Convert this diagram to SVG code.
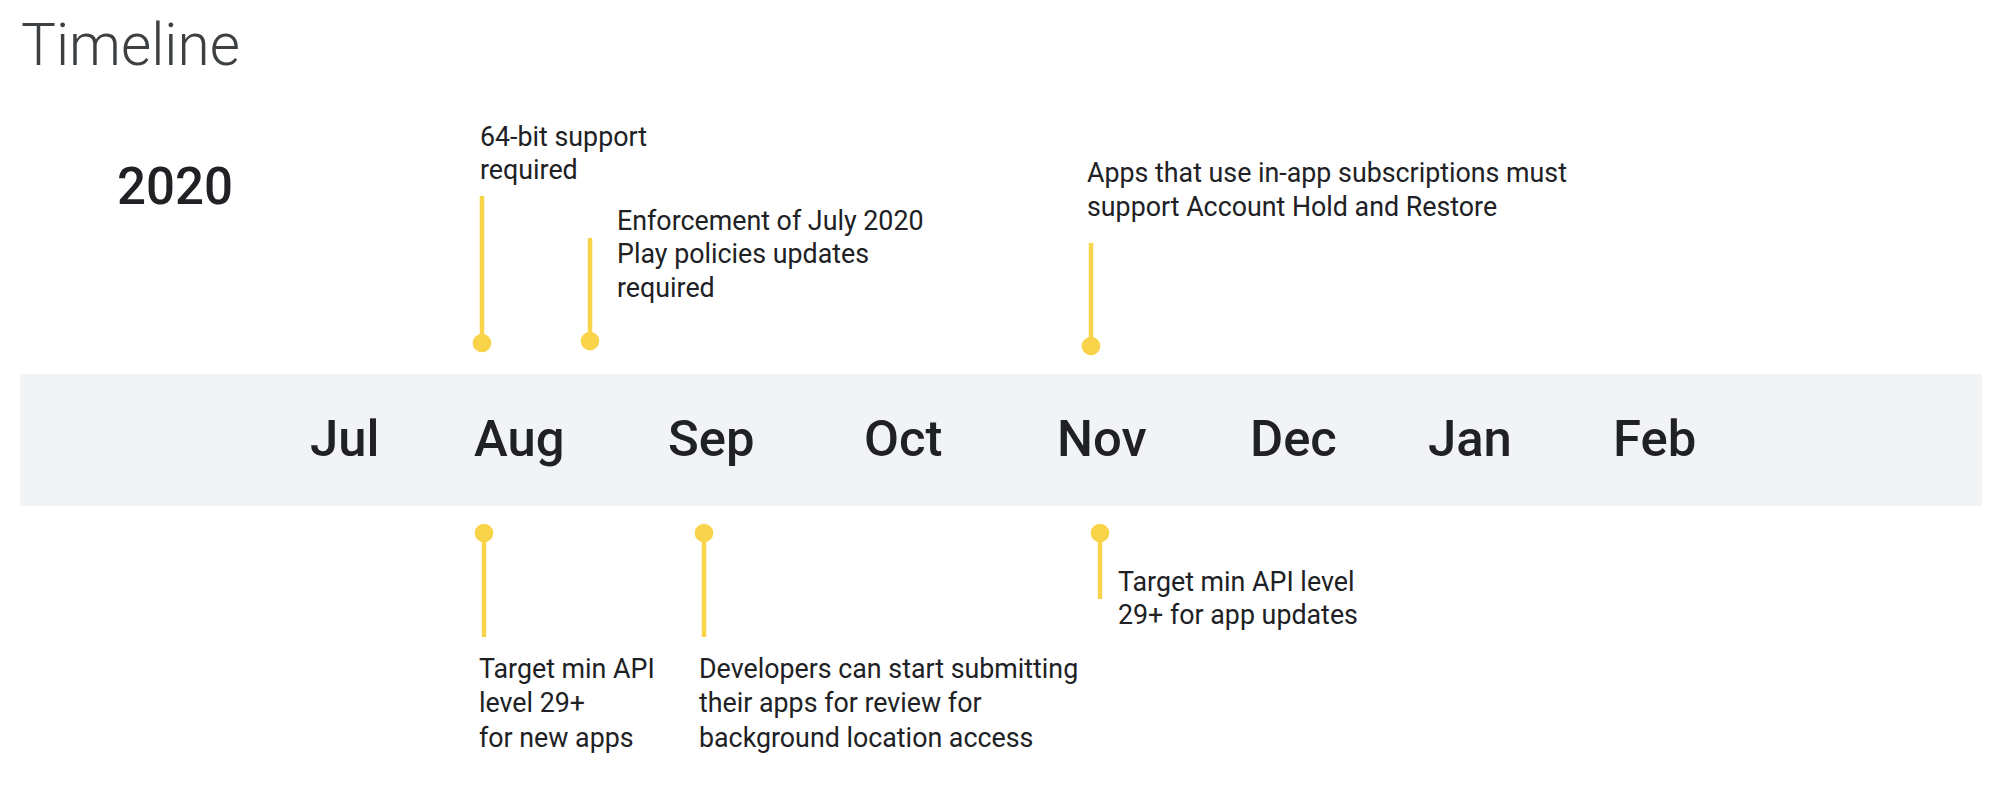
<svg xmlns="http://www.w3.org/2000/svg" width="1999" height="789" viewBox="0 0 1999 789">
<style>
  .title { font-family: Roboto, "Liberation Sans", sans-serif; font-weight: 300; font-size: 58.5px; fill: #3c4043; }
  .year { font-family: Roboto, "Liberation Sans", sans-serif; font-weight: 500; font-size: 51px; fill: #202124; }
  .month { font-family: Roboto, "Liberation Sans", sans-serif; font-weight: 500; font-size: 50.8px; fill: #202124; }
  .lbl { font-family: Roboto, "Liberation Sans", sans-serif; font-weight: 400; font-size: 26.8px; fill: #202124; }
  .stem { stroke: #F9D44A; stroke-width: 4.5; fill: none; }
  .dot { fill: #F9D44A; }
</style>
<rect width="1999" height="789" fill="#ffffff"/>
<g id="title"><text class="title" x="21" y="65">Timeline</text></g>
<g id="year"><text class="year" x="117" y="204">2020</text></g>
<g id="band">
  <rect x="20" y="374" width="1962" height="132" fill="#F1F3F4"/>
  <text class="month" x="310" y="456">Jul</text>
  <text class="month" x="474" y="456">Aug</text>
  <text class="month" x="668" y="456">Sep</text>
  <text class="month" x="864" y="456">Oct</text>
  <text class="month" x="1057" y="456">Nov</text>
  <text class="month" x="1250" y="456">Dec</text>
  <text class="month" x="1428" y="456">Jan</text>
  <text class="month" x="1613" y="456">Feb</text>
</g>
<g id="connectors">
  <line class="stem" x1="482" y1="196" x2="482" y2="343"/>
  <circle class="dot" cx="482" cy="343" r="9.3"/>
  <line class="stem" x1="590" y1="238" x2="590" y2="341"/>
  <circle class="dot" cx="590" cy="341" r="9.3"/>
  <line class="stem" x1="1091" y1="243" x2="1091" y2="346"/>
  <circle class="dot" cx="1091" cy="346" r="9.3"/>
  <line class="stem" x1="484" y1="533" x2="484" y2="637"/>
  <circle class="dot" cx="484" cy="533" r="9.3"/>
  <line class="stem" x1="704" y1="533" x2="704" y2="637"/>
  <circle class="dot" cx="704" cy="533" r="9.3"/>
  <line class="stem" x1="1100" y1="533" x2="1100" y2="599"/>
  <circle class="dot" cx="1100" cy="533" r="9.3"/>
</g>
<g id="ev-64bit">
  <text class="lbl" x="480" y="146">64-bit support</text>
  <text class="lbl" x="480" y="179">required</text>
</g>
<g id="ev-enforcement">
  <text class="lbl" x="617" y="230">Enforcement of July 2020</text>
  <text class="lbl" x="617" y="263">Play policies updates</text>
  <text class="lbl" x="617" y="297">required</text>
</g>
<g id="ev-subscriptions">
  <text class="lbl" x="1087" y="182">Apps that use in-app subscriptions must</text>
  <text class="lbl" x="1087" y="216">support Account Hold and Restore</text>
</g>
<g id="ev-newapps">
  <text class="lbl" x="479" y="678">Target min API</text>
  <text class="lbl" x="479" y="712">level 29+</text>
  <text class="lbl" x="479" y="747">for new apps</text>
</g>
<g id="ev-background">
  <text class="lbl" x="699" y="678">Developers can start submitting</text>
  <text class="lbl" x="699" y="712">their apps for review for</text>
  <text class="lbl" x="699" y="747">background location access</text>
</g>
<g id="ev-updates">
  <text class="lbl" x="1118" y="591">Target min API level</text>
  <text class="lbl" x="1118" y="624">29+ for app updates</text>
</g>
</svg>
